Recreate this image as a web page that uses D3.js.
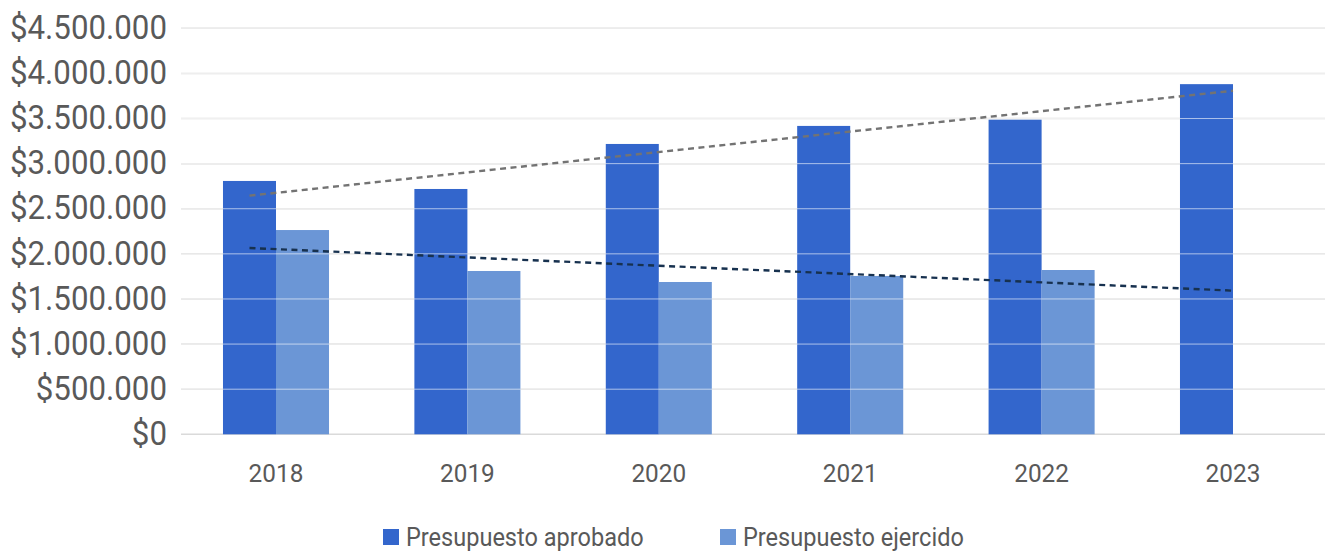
<!DOCTYPE html>
<html>
<head>
<meta charset="utf-8">
<script src="https://cdn.jsdelivr.net/npm/d3@7"></script>
<style>
  body { margin: 0; background: #fff; }
  text { font-family: Roboto, sans-serif; fill: #595959; }
</style>
</head>
<body>
<div class="chart"></div>
<script>
const years = ['2018', '2019', '2020', '2021', '2022', '2023']
const aprobado = [2808000, 2719000, 3218000, 3418000, 3487000, 3881000]
const ejercido = [2264000, 1810000, 1688000, 1755000, 1821000, null]
const seriesNames = ['Presupuesto aprobado', 'Presupuesto ejercido']
// trend line end values
const trendAprobado = [2645000, 3808000]
const trendEjercido = [2065000, 1592000]
const yTicks = [0, 500000, 1000000, 1500000, 2000000, 2500000, 3000000, 3500000, 4000000, 4500000]

const WIDTH = 1328
const HEIGHT = 553
const COLORS = ['#3366cc', '#6b96d6']
const SQUEEZE = 0.92

const locale = d3.formatLocale({ decimal: ',', thousands: '.', grouping: [3], currency: ['$', ''] })
const money = locale.format('$,.0f')

const svg = d3
  .select('.chart')
  .append('svg')
  .attr('width', WIDTH)
  .attr('height', HEIGHT)

const x0 = d3
  .scaleBand()
  .domain(years)
  .range([180.3, 1328.7])
  .paddingInner(0.446)
  .paddingOuter(0.223)

const x1 = d3
  .scaleBand()
  .domain([0, 1])
  .range([0, x0.bandwidth()])

const y = d3.scaleLinear().domain([0, 4500000]).range([434.3, 28.3])

// grid
svg
  .append('g')
  .selectAll('line')
  .data(yTicks)
  .enter()
  .append('line')
  .attr('x1', 181)
  .attr('x2', 1325)
  .attr('y1', d => y(d))
  .attr('y2', d => y(d))
  .attr('stroke', '#dadada')
  .attr('stroke-width', 1.5)

// y labels
const yAxis = svg
  .append('g')
  .attr('transform', 'translate(167,0)')
  .call(d3.axisLeft(y).tickValues(yTicks).tickFormat(money).tickSize(0).tickPadding(0))
yAxis.select('.domain').remove()
yAxis
  .selectAll('text')
  .attr('font-size', 34)
  .attr('font-family', 'Roboto, sans-serif')
  .attr('fill', '#595959')
  .attr('x', 0)
  .attr('dy', '0.3em')
  .attr('transform', `scale(${SQUEEZE},1)`)

// x labels
const xAxis = svg
  .append('g')
  .attr('transform', 'translate(0,434)')
  .call(d3.axisBottom(x0).tickSize(0).tickPadding(0))
xAxis.select('.domain').remove()
xAxis
  .selectAll('text')
  .attr('font-size', 26.5)
  .attr('font-family', 'Roboto, sans-serif')
  .attr('fill', '#595959')
  .attr('y', 0)
  .attr('dy', 0)
  .attr('transform', `translate(0,47.5) scale(${SQUEEZE},1)`)

// bars
const groups = svg
  .append('g')
  .selectAll('g')
  .data(years)
  .enter()
  .append('g')
  .attr('transform', d => `translate(${x0(d)},0)`)

groups
  .selectAll('rect')
  .data((d, i) => [aprobado[i], ejercido[i]])
  .enter()
  .filter(d => d != null)
  .append('rect')
  .attr('x', (d, i) => x1(i))
  .attr('width', x1.bandwidth())
  .attr('y', d => y(d))
  .attr('height', d => y(0) - y(d))
  .attr('fill', (d, i) => COLORS[i])

// grid lines show faintly over the bars
svg
  .append('g')
  .selectAll('line')
  .data(yTicks.slice(1))
  .enter()
  .append('line')
  .attr('x1', 181)
  .attr('x2', 1325)
  .attr('y1', d => y(d))
  .attr('y2', d => y(d))
  .attr('stroke', '#ffffff')
  .attr('stroke-opacity', 0.6)
  .attr('stroke-width', 1)

// trend lines
const tx0 = x0(years[0]) + x1.bandwidth() / 2
const tx1 = x0(years[years.length - 1]) + x0.bandwidth() / 2
const trendX = d3.scaleLinear().domain([0, 1]).range([tx0, tx1])
const line = d3.line().x((d, i) => trendX(i)).y(d => y(d))

svg
  .append('path')
  .attr('d', line(trendAprobado))
  .attr('fill', 'none')
  .attr('stroke', '#737373')
  .attr('stroke-width', 2.4)
  .attr('stroke-dasharray', '6,4.5')

svg
  .append('path')
  .attr('d', line(trendEjercido))
  .attr('fill', 'none')
  .attr('stroke', '#17314f')
  .attr('stroke-width', 2.4)
  .attr('stroke-dasharray', '6,4.5')

// legend
const legendX = [383, 720]
const legend = svg
  .append('g')
  .selectAll('g')
  .data(seriesNames)
  .enter()
  .append('g')
  .attr('transform', (d, i) => `translate(${legendX[i]},529)`)

legend
  .append('rect')
  .attr('width', 16)
  .attr('height', 16)
  .attr('fill', (d, i) => COLORS[i])

legend
  .append('text')
  .text(d => d)
  .attr('font-size', 25.6)
  .attr('transform', `translate(23,17) scale(${SQUEEZE},1)`)
</script>
</body>
</html>
